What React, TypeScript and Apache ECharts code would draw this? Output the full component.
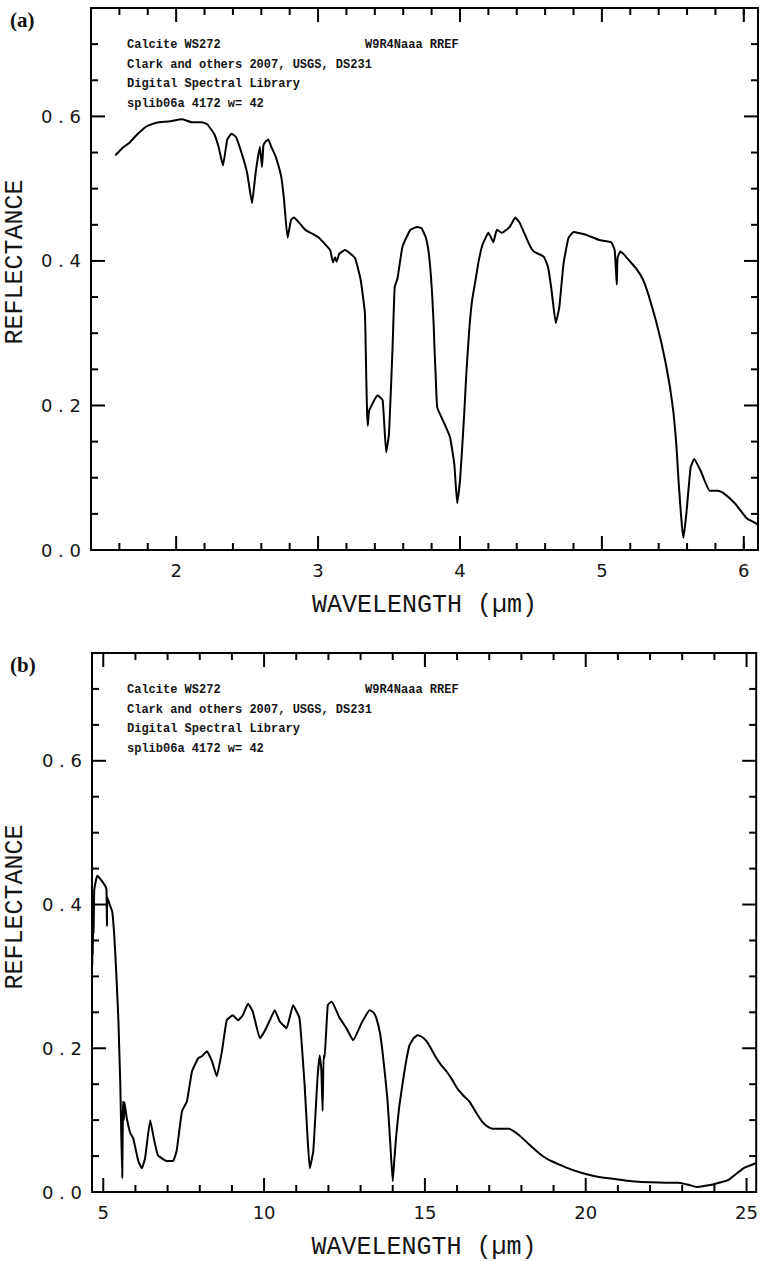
import React, { useEffect, useRef } from "react";
import * as echarts from "echarts";

// Calcite WS272 reflectance spectrum, 1.5–6 µm (panel a)
const wavelengthA = [
  1.575, 1.62, 1.673, 1.72, 1.79, 1.84, 1.88, 1.95, 2.04, 2.11, 2.18, 2.22, 2.27, 2.3, 2.33,
  2.36, 2.39, 2.42, 2.46, 2.5, 2.535, 2.56, 2.59, 2.605, 2.615, 2.63, 2.65, 2.67, 2.7, 2.74,
  2.76, 2.785, 2.81, 2.83, 2.91, 3.0, 3.085, 3.105, 3.12, 3.13, 3.15, 3.19, 3.26, 3.3, 3.33,
  3.34, 3.345, 3.35, 3.36, 3.42, 3.455, 3.48, 3.5, 3.525, 3.54, 3.56, 3.595, 3.65, 3.7, 3.73,
  3.76, 3.78, 3.795, 3.805, 3.815, 3.82, 3.83, 3.84, 3.89, 3.93, 3.96, 3.98, 4.0, 4.015, 4.03,
  4.045, 4.065, 4.085, 4.11, 4.13, 4.155, 4.18, 4.2, 4.235, 4.26, 4.295, 4.35, 4.39, 4.42, 4.49,
  4.52, 4.59, 4.62, 4.645, 4.675, 4.7, 4.73, 4.765, 4.8, 4.89, 4.98, 5.065, 5.09, 5.105, 5.11,
  5.13, 5.16, 5.19, 5.24, 5.29, 5.33, 5.38, 5.42, 5.45, 5.48, 5.505, 5.525, 5.54, 5.555, 5.565,
  5.575, 5.595, 5.625, 5.65, 5.695, 5.76, 5.82, 5.855, 5.94, 6.02, 6.085, 6.1,
];
const reflectanceA = [
  0.547, 0.556, 0.564, 0.574, 0.586, 0.59, 0.592, 0.593, 0.596, 0.592, 0.592, 0.589, 0.575, 0.557, 0.532,
  0.568, 0.576, 0.572, 0.55, 0.522, 0.48, 0.522, 0.558, 0.53, 0.56, 0.565, 0.568, 0.558, 0.545, 0.517,
  0.485, 0.432, 0.457, 0.46, 0.443, 0.433, 0.415, 0.398, 0.405, 0.399, 0.41, 0.415, 0.404, 0.374, 0.328,
  0.235, 0.193, 0.172, 0.193, 0.214, 0.207, 0.135, 0.161, 0.281, 0.364, 0.376, 0.42, 0.443, 0.447, 0.445,
  0.432, 0.411, 0.38, 0.35, 0.31, 0.281, 0.235, 0.197, 0.175, 0.156, 0.119, 0.065, 0.096, 0.14, 0.189,
  0.245, 0.304, 0.345, 0.374, 0.398, 0.42, 0.432, 0.439, 0.426, 0.443, 0.439, 0.447, 0.46, 0.453, 0.422,
  0.413, 0.406, 0.392, 0.36, 0.314, 0.336, 0.397, 0.432, 0.44, 0.436, 0.429, 0.426, 0.415, 0.367, 0.404,
  0.413, 0.408, 0.401, 0.39, 0.374, 0.352, 0.318, 0.286, 0.258, 0.225, 0.189, 0.145, 0.096, 0.055, 0.031,
  0.017, 0.05, 0.114, 0.126, 0.11, 0.082, 0.082, 0.079, 0.064, 0.044, 0.037, 0.035,
];

// Same sample, 4.7–25 µm (panel b)
const wavelengthB = [
  4.66, 4.665, 4.675, 4.69, 4.7, 4.72, 4.81, 4.9, 5.06, 5.1, 5.115, 5.125, 5.2, 5.28, 5.33,
  5.37, 5.42, 5.47, 5.5, 5.53, 5.56, 5.59, 5.61, 5.62, 5.64, 5.66, 5.73, 5.84, 5.93, 6.09,
  6.2, 6.3, 6.46, 6.57, 6.7, 6.98, 7.17, 7.28, 7.45, 7.6, 7.76, 7.95, 8.07, 8.22, 8.38,
  8.53, 8.69, 8.84, 9.03, 9.19, 9.34, 9.5, 9.65, 9.87, 10.02, 10.18, 10.33, 10.49, 10.7, 10.9,
  11.1, 11.18, 11.26, 11.34, 11.42, 11.53, 11.66, 11.73, 11.78, 11.82, 11.85, 11.88, 11.98, 12.1, 12.35,
  12.56, 12.77, 13.03, 13.28, 13.4, 13.49, 13.6, 13.68, 13.76, 13.84, 13.92, 14.0, 14.05, 14.11, 14.2,
  14.3, 14.4, 14.52, 14.65, 14.77, 14.9, 15.05, 15.2, 15.36, 15.5, 15.67, 15.85, 16.01, 16.2, 16.38,
  16.6, 16.78, 16.95, 17.1, 17.62, 17.93, 18.2, 18.55, 18.8, 19.08, 19.4, 19.7, 20.0, 20.41, 20.9,
  21.43, 22.49, 22.89, 23.2, 23.45, 23.91, 24.44, 24.9, 25.28,
];
const reflectanceB = [
  0.316, 0.4, 0.33, 0.4, 0.36, 0.42, 0.44, 0.436, 0.426, 0.42, 0.37, 0.41, 0.4, 0.39, 0.365,
  0.335, 0.29, 0.24, 0.195, 0.149, 0.08, 0.02, 0.11, 0.126, 0.1, 0.125, 0.103, 0.082, 0.075, 0.043,
  0.033, 0.047, 0.1, 0.075, 0.051, 0.043, 0.043, 0.057, 0.113, 0.126, 0.168, 0.186, 0.189, 0.196, 0.182,
  0.161, 0.196, 0.239, 0.246, 0.239, 0.246, 0.262, 0.251, 0.214, 0.224, 0.239, 0.253, 0.237, 0.228, 0.26,
  0.242, 0.2, 0.149, 0.085, 0.033, 0.057, 0.158, 0.19, 0.17, 0.113, 0.19, 0.186, 0.26, 0.265, 0.242,
  0.228, 0.211, 0.235, 0.253, 0.25, 0.242, 0.222, 0.196, 0.163, 0.126, 0.07, 0.015, 0.045, 0.079, 0.118,
  0.149, 0.178, 0.204, 0.214, 0.218, 0.216, 0.21, 0.199, 0.186, 0.177, 0.168, 0.156, 0.144, 0.134, 0.126,
  0.11, 0.098, 0.091, 0.088, 0.088, 0.079, 0.068, 0.054, 0.046, 0.04, 0.034, 0.029, 0.025, 0.021, 0.018,
  0.015, 0.013, 0.013, 0.01, 0.007, 0.01, 0.017, 0.033, 0.04,
];

const headerLines = [
  "Calcite WS272",
  "Clark and others 2007, USGS, DS231",
  "Digital Spectral Library",
  "splib06a 4172 w= 42",
];
const headerRight = "W9R4Naaa RREF";
const panelLetters = ["(a)", "(b)"];
const xTitle = "WAVELENGTH (\u00b5m)";
const yTitle = "REFLECTANCE";

// tick positions for each panel
const xMinorA = [1.6, 1.8, 2.2, 2.4, 2.6, 2.8, 3.2, 3.4, 3.6, 3.8, 4.2, 4.4, 4.6, 4.8, 5.2, 5.4, 5.6, 5.8, 6.0];
const xMajorA = [2, 3, 4, 5, 6];
const xMinorB = [6, 7, 8, 9, 11, 12, 13, 14, 16, 17, 18, 19, 21, 22, 23, 24];
const xMajorB = [5, 10, 15, 20, 25];
const yMinor = [0.05, 0.1, 0.15, 0.25, 0.3, 0.35, 0.45, 0.5, 0.55, 0.65, 0.7];
const yMajor = [0.2, 0.4, 0.6];

const MAJOR_LEN = 14;
const MINOR_LEN = 7;
const INK = "#000";
const TEXT = "#141414";

const panels = [
  { top: 8, left: 91, width: 672, height: 542, xMin: 1.4, xMax: 6.1, xStep: 0.1, labelEvery: 1,
    xs: wavelengthA, ys: reflectanceA, xMinor: xMinorA, xMajor: xMajorA },
  { top: 653, left: 92, width: 667, height: 541, xMin: 4.65, xMax: 25.3, xStep: 0.05, labelEvery: 5,
    xs: wavelengthB, ys: reflectanceB, xMinor: xMinorB, xMajor: xMajorB },
];

const isMultiple = (v: number, step: number) => Math.abs(v / step - Math.round(v / step)) < 1e-6;

export default function App() {
  const ref = useRef<HTMLDivElement>(null);

  useEffect(() => {
    if (!ref.current) return;
    const chart = echarts.init(ref.current, null, { renderer: "svg" });

    const grid: any[] = [];
    const xAxis: any[] = [];
    const yAxis: any[] = [];
    const series: any[] = [];
    const graphic: any[] = [];

    panels.forEach((p, i) => {
      grid.push({
        left: p.left, top: p.top, width: p.width, height: p.height,
        show: true, borderColor: INK, borderWidth: 2, backgroundColor: "transparent",
      });
      xAxis.push({
        type: "value", gridIndex: i, min: p.xMin, max: p.xMax, interval: p.xStep,
        axisLine: { show: false }, axisTick: { show: false }, splitLine: { show: false },
        axisLabel: {
          margin: 11, color: TEXT, fontFamily: "DejaVu Sans", fontSize: 18,
          formatter: (v: number) => (isMultiple(v, p.labelEvery) ? String(Math.round(v)) : ""),
        },
        name: xTitle, nameLocation: "middle", nameGap: 43,
        nameTextStyle: { fontFamily: "Liberation Mono", fontSize: 25, color: TEXT },
      });
      yAxis.push({
        type: "value", gridIndex: i, min: 0, max: 0.75, interval: 0.05,
        axisLine: { show: false }, axisTick: { show: false }, splitLine: { show: false },
        axisLabel: {
          margin: 10, color: TEXT, fontFamily: "DejaVu Sans", fontSize: 18,
          formatter: (v: number) => (isMultiple(v, 0.2) ? v.toFixed(1).split("").join(" ") : ""),
        },
      });

      series.push({
        type: "line", xAxisIndex: i, yAxisIndex: i, showSymbol: false,
        smooth: 0.12,
        lineStyle: { color: INK, width: 2, join: "round", cap: "round" }, silent: true,
        data: p.xs.map((x, k) => [x, p.ys[k]]),
      });

      // frame ticks on all four sides, placed through the axes' scales
      const ticks: number[][] = [];
      p.xMinor.forEach((v) => ticks.push([v, 0, 0, MINOR_LEN]));
      p.xMajor.forEach((v) => ticks.push([v, 0, 0, MAJOR_LEN]));
      yMinor.forEach((v) => ticks.push([p.xMin, v, 1, MINOR_LEN]));
      yMajor.forEach((v) => ticks.push([p.xMin, v, 1, MAJOR_LEN]));
      series.push({
        type: "custom", xAxisIndex: i, yAxisIndex: i, silent: true, clip: false,
        encode: { x: 0, y: 1 },
        data: ticks,
        renderItem: (params: any, api: any) => {
          const cs = params.coordSys;
          const pt = api.coord([api.value(0), api.value(1)]);
          const kind = api.value(2);
          const len = api.value(3);
          const style = { stroke: INK, lineWidth: 2 };
          if (kind === 0) {
            const bottom = cs.y + cs.height;
            return {
              type: "group",
              children: [
                { type: "line", shape: { x1: pt[0], y1: bottom, x2: pt[0], y2: bottom - len }, style },
                { type: "line", shape: { x1: pt[0], y1: cs.y, x2: pt[0], y2: cs.y + len }, style },
              ],
            };
          }
          const right = cs.x + cs.width;
          return {
            type: "group",
            children: [
              { type: "line", shape: { x1: cs.x, y1: pt[1], x2: cs.x + len, y2: pt[1] }, style },
              { type: "line", shape: { x1: right, y1: pt[1], x2: right - len, y2: pt[1] }, style },
            ],
          };
        },
      });

      // header block inside the frame
      headerLines.forEach((line, k) => {
        graphic.push({
          type: "text", x: 127, y: p.top + 37 + k * 19.5, silent: true,
          style: {
            text: line, fill: TEXT, fontFamily: "Liberation Mono", fontWeight: "bold",
            fontSize: 12, align: "left", verticalAlign: "middle",
          },
        });
      });
      graphic.push({
        type: "text", x: 365, y: p.top + 37, silent: true,
        style: {
          text: headerRight, fill: TEXT, fontFamily: "Liberation Mono", fontWeight: "bold",
          fontSize: 12, align: "left", verticalAlign: "middle",
        },
      });

      graphic.push({
        type: "text", x: 15, y: p.top + 254, rotation: Math.PI / 2, silent: true,
        style: {
          text: yTitle, fill: TEXT, fontFamily: "Liberation Mono", fontSize: 25,
          align: "center", verticalAlign: "middle",
        },
      });

      graphic.push({
        type: "text", x: 10, y: p.top + 1, silent: true,
        style: {
          text: panelLetters[i], fill: "#111", fontFamily: "Liberation Serif", fontWeight: "bold",
          fontSize: 21, align: "left", verticalAlign: "top",
        },
      });
    });

    chart.setOption({
      animation: false,
      backgroundColor: "#fff",
      grid, xAxis, yAxis, series, graphic,
    });

    return () => chart.dispose();
  }, []);

  return (
    <div
      ref={ref}
      style={{ position: "absolute", left: 0, top: 0, width: 761, height: 1261, background: "#fff" }}
    />
  );
}
